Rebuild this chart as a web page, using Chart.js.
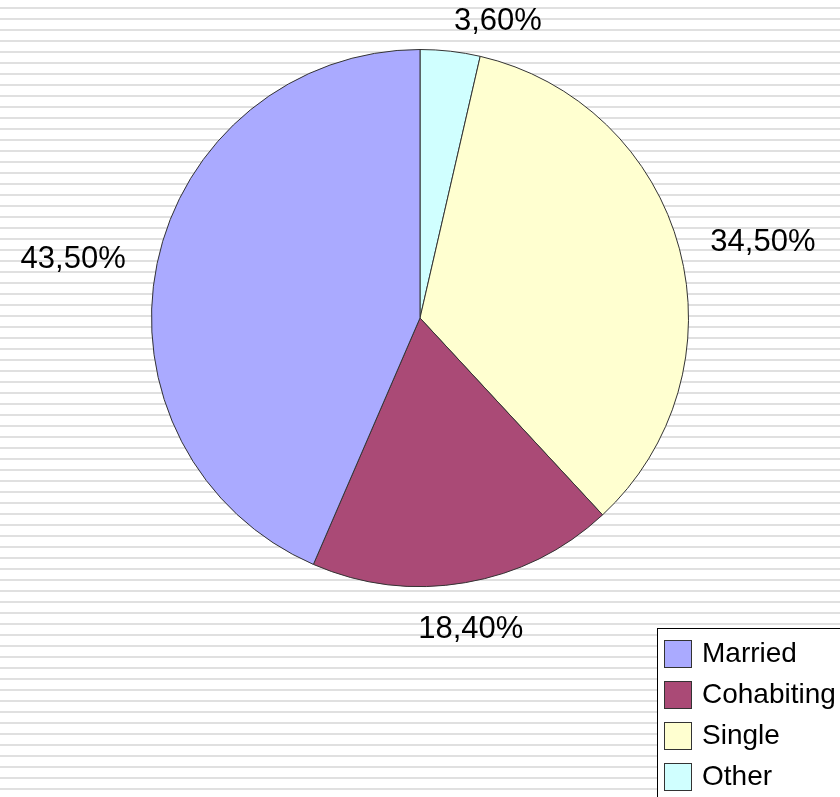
<!DOCTYPE html>
<html>
<head>
<meta charset="utf-8">
<script src="https://cdn.jsdelivr.net/npm/chart.js@4"></script>
<style>
  html, body { margin: 0; padding: 0; }
  body {
    width: 840px; height: 797px; overflow: hidden;
    background: repeating-linear-gradient(to bottom, #ffffff 0px, #ffffff 7px, #e0e0e0 7px, #e0e0e0 9px, #ffffff 9px, #ffffff 11px);
  }
  canvas { display: block; }
</style>
</head>
<body>
<canvas id="c" width="840" height="797"></canvas>
<script>
// Data (legend order)
const categories = ['Married', 'Cohabiting', 'Single', 'Other'];
const shares = [43.5, 18.4, 34.5, 3.6];
const colors = ['#aaaaff', '#aa4a76', '#ffffd0', '#d0ffff'];

// Pie is drawn clockwise from the top in reverse legend order
const pieLabels = categories.slice().reverse();
const pieValues = shares.slice().reverse();
const pieColors = colors.slice().reverse();

function fmt(v) { return v.toFixed(2).replace('.', ',') + '%'; }

const labelPlugin = {
  id: 'outerLabels',
  afterDatasetsDraw(chart) {
    const ctx = chart.ctx;
    const meta = chart.getDatasetMeta(0);
    ctx.save();
    ctx.font = '31px "Liberation Sans", Arial, sans-serif';
    ctx.fillStyle = '#000';
    meta.data.forEach((arc, i) => {
      const mid = (arc.startAngle + arc.endAngle) / 2;
      const d = arc.outerRadius + 32;
      const px = arc.x + Math.cos(mid) * d;
      const py = arc.y + Math.sin(mid) * d;
      const cx = Math.cos(mid), sy = Math.sin(mid);
      if (sy > 0.9) { ctx.textAlign = 'center'; ctx.textBaseline = 'top'; ctx.fillText(fmt(pieValues[i]), px, py); return; }
      ctx.textAlign = cx >= 0 ? 'left' : 'right';
      ctx.textBaseline = 'middle';
      ctx.fillText(fmt(pieValues[i]), px, py + 2);
    });
    ctx.restore();
  }
};

const legendPlugin = {
  id: 'boxLegend',
  afterDraw(chart) {
    const ctx = chart.ctx;
    ctx.save();
    const bx = 657.5, by = 628.5;
    ctx.fillStyle = '#fff';
    ctx.fillRect(bx, by, 840 - bx + 5, 797 - by + 5);
    ctx.strokeStyle = '#000';
    ctx.lineWidth = 1;
    ctx.strokeRect(bx, by, 840 - bx + 5, 797 - by + 5);
    ctx.font = '28px "Liberation Sans", Arial, sans-serif';
    ctx.textAlign = 'left';
    ctx.textBaseline = 'middle';
    categories.forEach((name, i) => {
      const y = 640 + i * 41;
      ctx.fillStyle = colors[i];
      ctx.fillRect(664, y, 28, 28);
      ctx.strokeStyle = '#333';
      ctx.strokeRect(664.5, y + 0.5, 27, 27);
      ctx.fillStyle = '#000';
      ctx.fillText(name, 702, y + 14);
    });
    ctx.restore();
  }
};

new Chart(document.getElementById('c'), {
  type: 'pie',
  data: {
    labels: pieLabels,
    datasets: [{
      data: pieValues,
      backgroundColor: pieColors,
      borderColor: '#333333',
      borderWidth: 1
    }]
  },
  options: {
    responsive: false,
    animation: false,
    layout: { padding: { left: 151, right: 151, top: 49, bottom: 210 } },
    plugins: { legend: { display: false }, tooltip: { enabled: false } }
  },
  plugins: [labelPlugin, legendPlugin]
});
</script>
</body>
</html>
